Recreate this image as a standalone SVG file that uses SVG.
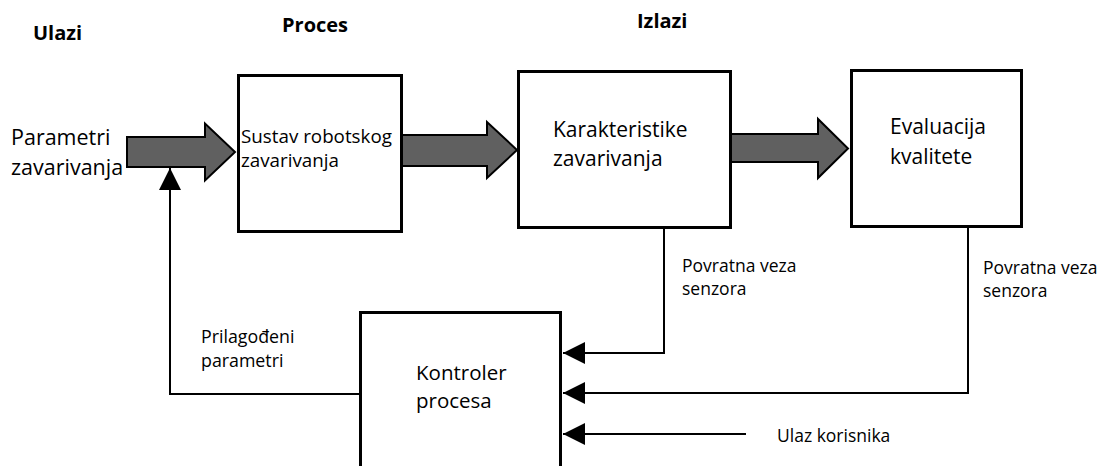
<svg xmlns="http://www.w3.org/2000/svg" width="1102" height="466" viewBox="0 0 1102 466">
<defs>
<style>
.box{fill:#fff;stroke:#000;stroke-width:3}
.big{fill:#606060;stroke:#000;stroke-width:2;stroke-linejoin:miter}
.ln{fill:none;stroke:#000;stroke-width:2}
.t{font-family:"Open Sans","Noto Sans","Liberation Sans",sans-serif;fill:#000}
.h{font-family:"Open Sans","Noto Sans","Liberation Sans",sans-serif;font-weight:bold;font-size:20px;fill:#000}
</style>
<marker id="ah" markerUnits="userSpaceOnUse" markerWidth="22" markerHeight="22" viewBox="0 0 22 22" refX="22" refY="11" orient="auto">
<path d="M0,0 L22,11 L0,22 Z" fill="#000"/>
</marker>
</defs>
<rect width="1102" height="466" fill="#fff"/>
<g id="headers">
<text class="h" x="33" y="40">Ulazi</text>
<text class="h" x="282" y="32">Proces</text>
<text class="h" x="637" y="28">Izlazi</text>
</g>
<g id="input-label">
<text class="t" font-size="21.5" x="11" y="145">Parametri</text>
<text class="t" font-size="21.5" x="11" y="175">zavarivanja</text>
</g>
<g id="node-sustav">
<rect class="box" x="238.5" y="75.5" width="163" height="156"/>
<text class="t" font-size="18.8" x="241" y="143">Sustav robotskog</text>
<text class="t" font-size="18.8" x="241" y="167">zavarivanja</text>
</g>
<g id="node-karakteristike">
<rect class="box" x="518.5" y="71.5" width="212" height="156"/>
<text class="t" font-size="21" x="553" y="137">Karakteristike</text>
<text class="t" font-size="21" x="553" y="166">zavarivanja</text>
</g>
<g id="node-evaluacija">
<rect class="box" x="851.5" y="70.5" width="170" height="156"/>
<text class="t" font-size="21" x="890" y="134">Evaluacija</text>
<text class="t" font-size="21" x="890" y="164">kvalitete</text>
</g>
<g id="node-kontroler">
<path class="box" d="M360.5,470 V312.5 H560.5 V470"/>
<text class="t" font-size="20.5" x="416" y="380">Kontroler</text>
<text class="t" font-size="20.5" x="416" y="408">procesa</text>
</g>
<g id="connectors">
<polygon class="big" points="127,137 205,137 205,123.5 235,152 205,180.5 205,167 127,167"/>
<polygon class="big" points="402,135 487,135 487,122 517,150 487,178 487,166 402,166"/>
<polygon class="big" points="731,134 818,134 818,119 848,148.5 818,178 818,162 731,162"/>
<path class="ln" d="M360,394 H170 V168" marker-end="url(#ah)"/>
<path class="ln" d="M664,228 V353 H563" marker-end="url(#ah)"/>
<path class="ln" d="M968,227 V393 H563" marker-end="url(#ah)"/>
<path class="ln" d="M746,434 H563" marker-end="url(#ah)"/>
</g>
<g id="labels">
<text class="t" font-size="17.5" x="682" y="272">Povratna veza</text>
<text class="t" font-size="17.5" x="682" y="295">senzora</text>
<text class="t" font-size="17.5" x="983" y="274">Povratna veza</text>
<text class="t" font-size="17.5" x="983" y="297">senzora</text>
<text class="t" font-size="17.8" x="201" y="343">Prilagođeni</text>
<text class="t" font-size="17.8" x="201" y="367">parametri</text>
<text class="t" font-size="17.5" x="777" y="442">Ulaz korisnika</text>
</g>
</svg>
